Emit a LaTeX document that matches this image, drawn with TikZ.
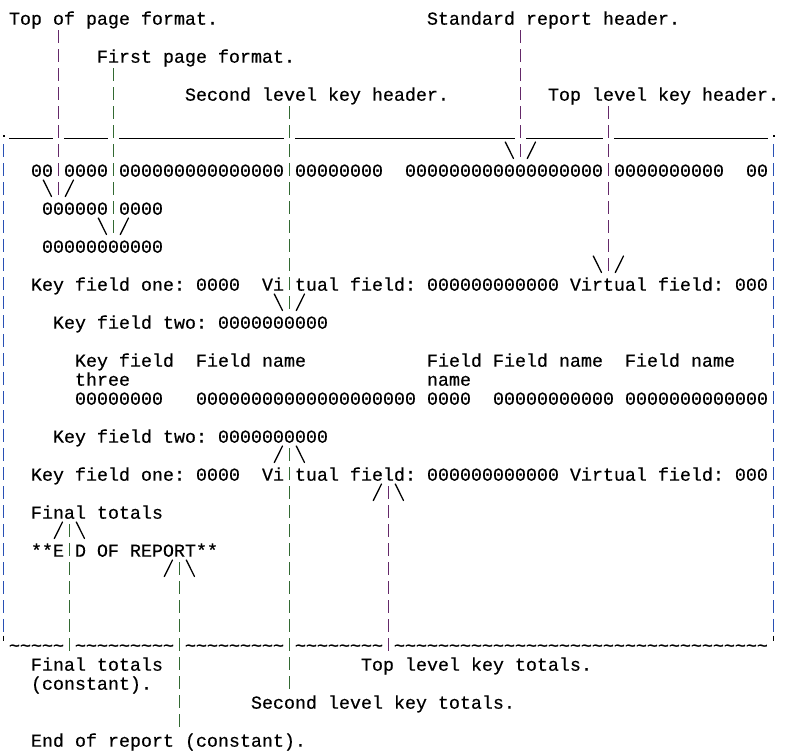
\documentclass[tikz,border=0pt]{standalone}
\usepackage{fontspec}
\newfontfamily\monof{Liberation Mono}[FakeBold=0.4]
\frenchspacing
\definecolor{bord}{RGB}{40,80,180}
\definecolor{purp}{RGB}{100,40,105}
\definecolor{grn}{RGB}{50,105,50}
\tikzset{
  txt/.style={anchor=base west, inner sep=0pt, outer sep=0pt,
    font=\monof\fontsize{18.33}{19}\selectfont\frenchspacing},
  lead/.style={line width=1pt, dash pattern=on 13pt off 6pt},
  slashln/.style={line width=1.3pt, line cap=round},
  uline/.style={line width=1.6pt},
}
\newcommand\putt[4]{\node[txt] (#1) at ({11*#2-2},{24.7+19*#3}) {#4};}
\newcommand\ldr[5]{%
  \coordinate (#1s) at ({11*#2+3.5},{7.5+19*#3+3.5});
  \coordinate (#1e) at ({11*#2+3.5},{7.5+19*#4+16.5});
  \draw[lead,#5] (#1s) -- (#1e);}
\newcommand\slB[3]{%
  \coordinate (#1a) at ({11*#2-2+1.3},{7.5+19*#3+1.5});
  \coordinate (#1b) at ({11*#2-2+9.5},{7.5+19*#3+18});
  \draw[slashln] (#1a) -- (#1b);}
\newcommand\slF[3]{%
  \coordinate (#1a) at ({11*#2-2+9.5},{7.5+19*#3+1.5});
  \coordinate (#1b) at ({11*#2-2+1.3},{7.5+19*#3+18});
  \draw[slashln] (#1a) -- (#1b);}
\newcommand\uln[3]{%
  \coordinate (#1a) at ({11*#2-2},138.3);
  \coordinate (#1b) at ({11*#3+9},138.3);
  \draw[uline] (#1a) -- (#1b);}
\newcommand\tildes[1]{\foreach \k in {1,...,#1}{\char126\relax}}
\begin{document}
\begin{tikzpicture}[x=1pt,y=-1pt]
\fill[white] (0,0) rectangle (795,753);
\useasboundingbox (0,0) rectangle (795,753);
% labels at top
\putt{t0a}{1}{0}{Top of page format.}
\putt{t0b}{39}{0}{Standard report header.}
\putt{t2}{9}{2}{First page format.}
\putt{t4a}{17}{4}{Second level key header.}
\putt{t4b}{50}{4}{Top level key header.}
% report body
\putt{t8a}{3}{8}{00}
\putt{t8b}{6}{8}{0000}
\putt{t8c}{11}{8}{000000000000000}
\putt{t8d}{27}{8}{00000000}
\putt{t8e}{37}{8}{000000000000000000}
\putt{t8f}{56}{8}{0000000000}
\putt{t8g}{68}{8}{00}
\putt{t10a}{4}{10}{000000}
\putt{t10b}{11}{10}{0000}
\putt{t12}{4}{12}{00000000000}
\putt{t14a}{3}{14}{Key field one: 0000}
\putt{t14b}{24}{14}{Vi}
\putt{t14c}{27}{14}{tual field: 000000000000 Virtual field: 000}
\putt{t16}{5}{16}{Key field two: 0000000000}
\putt{t18a}{7}{18}{Key field}
\putt{t18b}{18}{18}{Field name}
\putt{t18c}{39}{18}{Field}
\putt{t18d}{45}{18}{Field name}
\putt{t18e}{57}{18}{Field name}
\putt{t19a}{7}{19}{three}
\putt{t19b}{39}{19}{name}
\putt{t20a}{7}{20}{00000000}
\putt{t20b}{18}{20}{00000000000000000000}
\putt{t20c}{39}{20}{0000}
\putt{t20d}{45}{20}{00000000000}
\putt{t20e}{57}{20}{0000000000000}
\putt{t22}{5}{22}{Key field two: 0000000000}
\putt{t24a}{3}{24}{Key field one: 0000}
\putt{t24b}{24}{24}{Vi}
\putt{t24c}{27}{24}{tual field: 000000000000 Virtual field: 000}
\putt{t26}{3}{26}{Final totals}
\putt{t28a}{3}{28}{**E}
\putt{t28b}{7}{28}{D OF REPORT**}
% bottom border (tildes)
\putt{t33a}{1}{33}{\tildes{5}}
\putt{t33b}{7}{33}{\tildes{9}}
\putt{t33c}{17}{33}{\tildes{9}}
\putt{t33d}{27}{33}{\tildes{8}}
\putt{t33e}{36}{33}{\tildes{34}}
% labels at bottom
\putt{t34a}{3}{34}{Final totals}
\putt{t34b}{33}{34}{Top level key totals.}
\putt{t35}{3}{35}{(constant).}
\putt{t36}{23}{36}{Second level key totals.}
\putt{t38}{3}{38}{End of report (constant).}
% top border (underscores)
\uln{u1}{1}{4}
\uln{u2}{6}{9}
\uln{u3}{11}{25}
\uln{u4}{27}{46}
\uln{u5}{48}{54}
\uln{u6}{56}{69}
% page sides and corners
\ldr{Bl}{0}{7}{32}{bord}
\ldr{Br}{70}{7}{32}{bord}
\fill (2.5,134.5) rectangle (4.5,136.5);
\fill (772.5,134.5) rectangle (774.5,136.5);
\coordinate (cbl1) at (3.5,635.5); \coordinate (cbl2) at (3.5,640.5);
\draw[line width=1.3pt] (cbl1) -- (cbl2);
\coordinate (cbr1) at (773.5,635.5); \coordinate (cbr2) at (773.5,640.5);
\draw[line width=1.3pt] (cbr1) -- (cbr2);
% leader lines
\ldr{La}{5}{1}{9}{purp}
\ldr{Lb}{10}{3}{11}{grn}
\ldr{Lc}{26}{5}{15}{grn}
\ldr{Ld}{47}{1}{7}{purp}
\ldr{Le}{55}{5}{13}{purp}
\ldr{Lf}{26}{23}{35}{grn}
\ldr{Lg}{35}{25}{33}{purp}
\ldr{Lh}{6}{27}{33}{grn}
\ldr{Li}{16}{29}{37}{grn}
% arrow heads made of slashes
\slB{s7a}{46}{7} \slF{s7b}{48}{7}
\slB{s9a}{4}{9} \slF{s9b}{6}{9}
\slB{s11a}{9}{11} \slF{s11b}{11}{11}
\slB{s13a}{54}{13} \slF{s13b}{56}{13}
\slB{s15a}{25}{15} \slF{s15b}{27}{15}
\slF{s23a}{25}{23} \slB{s23b}{27}{23}
\slF{s25a}{34}{25} \slB{s25b}{36}{25}
\slF{s27a}{5}{27} \slB{s27b}{7}{27}
\slF{s29a}{15}{29} \slB{s29b}{17}{29}
\end{tikzpicture}
\end{document}
